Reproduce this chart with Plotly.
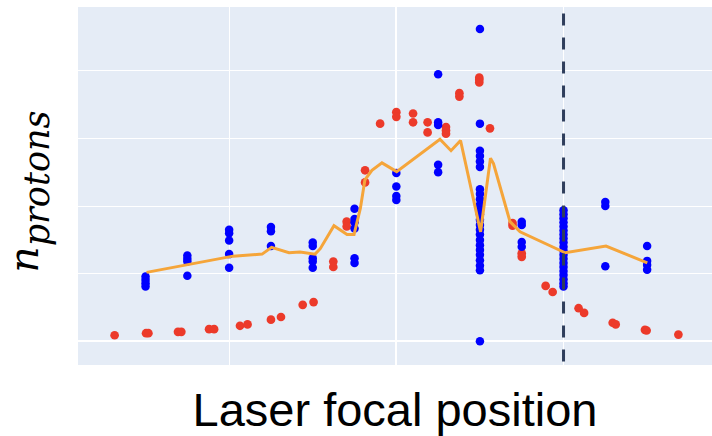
import plotly.graph_objects as go

# ---- data ----
blue_x = ([-150] * 4 + [-125] * 4 + [-100] * 5 + [-75] * 3 + [-50] * 5 + [-25] * 6 + [0] * 4 + [25] * 5
          + [50] * 24 + [75] * 4 + [100] * 20 + [125] * 3 + [150] * 4)
blue_y = ([0.96, 0.91, 0.86, 0.81]
          + [1.27, 1.22, 1.18, 0.97]
          + [1.65, 1.60, 1.49, 1.29, 1.09]
          + [1.69, 1.63, 1.41]
          + [1.46, 1.41, 1.23, 1.18, 1.09]
          + [1.96, 1.81, 1.76, 1.67, 1.23, 1.16]
          + [2.49, 2.29, 2.15, 2.09]
          + [3.95, 3.24, 3.20, 2.61, 2.50]
          + [4.62, 3.22, 2.82, 2.74, 2.66, 2.58, 2.25, 2.18, 2.10, 2.02, 1.95, 1.88, 1.80, 1.72,
             1.65, 1.58, 1.50, 1.42, 1.35, 1.28, 1.20, 1.12, 1.05, 0.0]
          + [1.77, 1.72, 1.47, 1.40]
          + [1.94, 1.88, 1.82, 1.76, 1.70, 1.64, 1.58, 1.52, 1.46, 1.40, 1.34, 1.28, 1.22, 1.16,
             1.10, 1.04, 0.98, 0.92, 0.86, 0.81]
          + [2.06, 2.00, 1.11]
          + [1.41, 1.19, 1.13, 1.06])

red_x = [-168.5, -149.7, -148.3, -130.6, -128.6, -112, -109, -93.5, -89, -75, -69, -56, -49.5,
         -37.7, -37.7, -29.7, -29.7, -18.7, -18.7, -9.7, 0, 0, 10, 10, 18.7, 18.7,
         29.7, 29.7, 29.7, 37.7, 37.7, 49.6, 49.6, 49.6, 56, 69.5, 69.5, 75, 75,
         89.3, 93.5, 109, 112.3, 129.4, 131.2, 148.7, 149.7, 168.7]
red_y = [0.09, 0.12, 0.12, 0.14, 0.14, 0.18, 0.18, 0.23, 0.25, 0.32, 0.36, 0.54, 0.58,
         1.18, 1.10, 1.77, 1.70, 2.53, 2.35, 3.22, 3.39, 3.32, 3.37, 3.24, 3.24, 3.09,
         3.17, 3.12, 3.07, 3.67, 3.62, 3.90, 3.87, 3.83, 3.15, 1.75, 1.71, 1.30, 1.25,
         0.82, 0.73, 0.49, 0.42, 0.275, 0.25, 0.17, 0.16, 0.10]

trend_x = [-149.4, -97.7, -80.3, -74.6, -64.2, -57.6, -48.6, -45.5, -37.3, -29.5, -25.3, -21.5,
           -18.8, -14.6, -8.6, 0.2, 26.1, 32.7, 38.4, 50.4, 56.3, 58.1, 68, 74, 101, 125.4, 150.1]
trend_y = [1.02, 1.26, 1.29, 1.39, 1.31, 1.32, 1.29, 1.37, 1.71, 1.58, 1.58, 1.97,
           2.39, 2.53, 2.64, 2.51, 2.99, 2.82, 2.97, 1.62, 2.71, 2.63, 1.77, 1.62, 1.31, 1.41, 1.16]

focal_marker = 100

x_range = [-190.4, 188.8]
y_range = [-0.35, 4.945]

fig = go.Figure()
fig.add_trace(go.Scatter(x=red_x, y=red_y, mode="markers",
                         marker=dict(color="#EC3A2A", size=8.7, line=dict(width=0))))
fig.add_trace(go.Scatter(x=blue_x, y=blue_y, mode="markers",
                         marker=dict(color="#0000FF", size=8.5, line=dict(width=0))))
fig.add_trace(go.Scatter(x=trend_x, y=trend_y, mode="lines",
                         line=dict(color="#F5A53A", width=3)))

fig.add_shape(type="line", xref="x", yref="y", x0=focal_marker, x1=focal_marker,
              y0=y_range[1] + 0.26, y1=y_range[0] - 0.2,
              line=dict(color="#2F3E5C", width=3, dash="12px,12px"))

fig.update_layout(
    template="plotly",
    width=712, height=436,
    margin=dict(l=78, r=0, t=7, b=71, pad=0),
    showlegend=False,
    plot_bgcolor="#E5ECF6",
    paper_bgcolor="white",
    xaxis=dict(range=x_range, dtick=100, tick0=0, showticklabels=False, ticks="",
               automargin=False,
               title=dict(text="Laser focal position", standoff=28,
                          font=dict(family="Liberation Sans, Arial, sans-serif", size=47, color="black"))),
    yaxis=dict(range=y_range, dtick=1, tick0=0, showticklabels=False, ticks="",
               automargin=False,
               title=dict(text='<span style="font-size:41px"><i>n</i></span><sub><i>protons</i>\u00a0</sub>',
                          standoff=31,
                          font=dict(family="DejaVu Serif, serif", size=50, color="black"))),
)

fig.write_html("out.html")
